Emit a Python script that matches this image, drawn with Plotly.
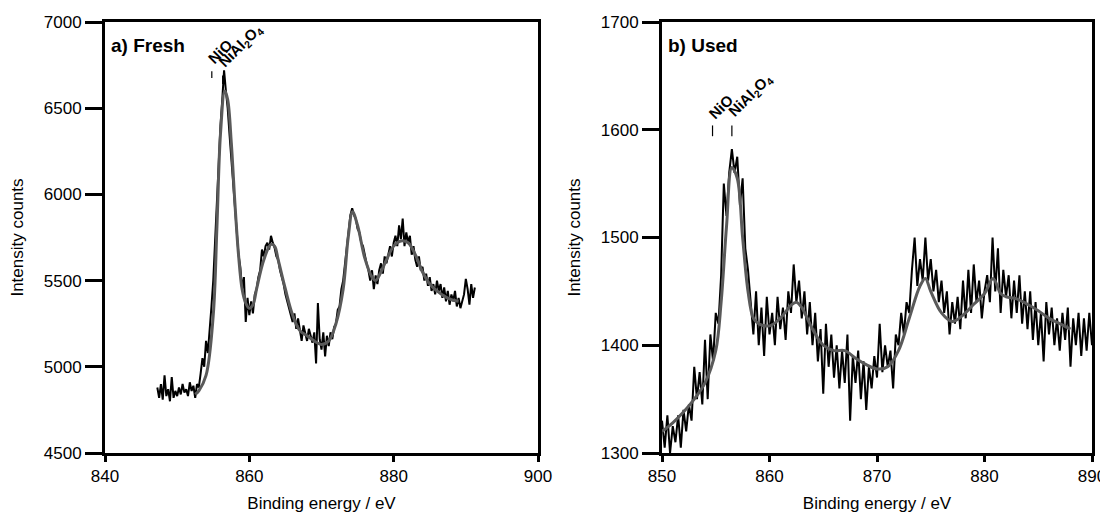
import numpy as np
import plotly.graph_objects as go

# ---------------- Data: (a) Fresh ----------------
fresh_start, fresh_step = 847.25, 0.25
fresh_counts = [
    4880, 4820, 4900, 4810, 4950, 4830, 4870, 4800, 4940, 4820,
    4860, 4830, 4880, 4840, 4900, 4850, 4870, 4830, 4910, 4860,
    4890, 4820, 4900, 4880, 4960, 5050, 5000, 5150, 5080, 5200,
    5350, 5500, 5750, 5950, 6200, 6400, 6550, 6720, 6600, 6500,
    6350, 6200, 6050, 5900, 5780, 5650, 5580, 5450, 5520, 5260,
    5400, 5300, 5380, 5310, 5420, 5450, 5520, 5560, 5680, 5640,
    5700, 5720, 5680, 5760, 5720, 5690, 5640, 5620, 5560, 5520,
    5480, 5420, 5380, 5340, 5300, 5260, 5310, 5220, 5280, 5200,
    5150, 5240, 5190, 5150, 5220, 5180, 5140, 5200, 5020, 5370,
    5160, 5100, 5200, 5060, 5180, 5120, 5200, 5160, 5230, 5250,
    5330, 5350, 5450, 5500, 5600, 5700, 5800, 5880, 5920, 5880,
    5860, 5800, 5780, 5720, 5700, 5640, 5600, 5560, 5500, 5560,
    5450, 5530, 5480, 5560, 5600, 5540, 5640, 5600, 5660, 5700,
    5640, 5720, 5760, 5700, 5820, 5740, 5860, 5700, 5780, 5720,
    5760, 5650, 5700, 5620, 5580, 5640, 5560, 5580, 5500, 5540,
    5470, 5520, 5440, 5480, 5420, 5500, 5440, 5480, 5400, 5460,
    5380, 5440, 5360, 5420, 5380, 5440, 5350, 5400, 5340, 5380,
    5420, 5510, 5450, 5360, 5480, 5400, 5460,
]
fresh_fit_energy = [852.5, 853, 854, 855, 855.5, 856, 856.6, 857, 857.5, 858,
                    858.5, 859, 859.5, 860, 860.5, 861, 862, 863, 863.5, 864,
                    865, 866, 867, 868, 869, 870, 871, 872, 873, 873.7,
                    874.3, 875, 876, 877, 877.5, 878, 879, 880, 881, 882,
                    883, 884, 885, 886, 887, 888, 889]
fresh_fit = [4840, 4860, 4950, 5300, 5800, 6350, 6600, 6550, 6300, 5950,
             5650, 5450, 5370, 5340, 5360, 5450, 5620, 5710, 5700, 5620,
             5450, 5300, 5210, 5180, 5150, 5130, 5150, 5250, 5450, 5750,
             5900, 5820, 5630, 5520, 5500, 5530, 5620, 5700, 5730, 5720,
             5650, 5550, 5480, 5440, 5410, 5390, 5380]

# ---------------- Data: (b) Used ----------------
used_start, used_step = 850.0, 0.25
used_counts = [
    1330, 1305, 1335, 1300, 1325, 1310, 1335, 1305, 1340, 1320,
    1345, 1330, 1380, 1350, 1375, 1345, 1405, 1350, 1410, 1385,
    1430, 1420, 1465, 1550, 1520, 1560, 1582, 1560, 1575, 1530,
    1555, 1490, 1470, 1440, 1410, 1450, 1400, 1435, 1390, 1445,
    1410, 1430, 1400, 1445, 1415, 1435, 1405, 1450, 1430, 1475,
    1440, 1460, 1425, 1450, 1410, 1440, 1400, 1430, 1385, 1415,
    1355, 1420, 1380, 1410, 1370, 1400, 1360, 1395, 1365, 1410,
    1330, 1390, 1365, 1395, 1350, 1385, 1340, 1380, 1360, 1390,
    1370, 1420, 1375, 1400, 1380, 1395, 1360, 1410, 1400, 1430,
    1410, 1440, 1430, 1470, 1500, 1455, 1480, 1460, 1500, 1460,
    1480, 1450, 1470, 1440, 1460, 1430, 1450, 1410, 1440, 1420,
    1445, 1415, 1460, 1425, 1470, 1430, 1475, 1440, 1460, 1425,
    1450, 1465, 1440, 1500, 1450, 1490, 1430, 1470, 1445, 1465,
    1425, 1460, 1430, 1465, 1420, 1450, 1415, 1450, 1405, 1440,
    1400, 1430, 1385, 1440, 1410, 1435, 1400, 1425, 1395, 1430,
    1405, 1435, 1380, 1425, 1400, 1430, 1390, 1425, 1395, 1430,
    1400,
]
used_fit_energy = [850, 851, 852, 853, 854, 855, 855.5, 856, 856.5, 857,
                   857.5, 858, 858.5, 859, 860, 861, 862, 862.5, 863, 864,
                   865, 866, 867, 868, 869, 870, 871, 872, 873, 874,
                   874.5, 875, 876, 877, 878, 879, 880, 880.8, 881.5, 882,
                   883, 884, 885, 886, 887, 888]
used_fit = [1320, 1328, 1338, 1350, 1365, 1395, 1440, 1510, 1565, 1555,
            1500, 1450, 1425, 1420, 1418, 1425, 1437, 1440, 1435, 1415,
            1400, 1395, 1395, 1388, 1382, 1378, 1380, 1395, 1425, 1455,
            1462, 1450, 1430, 1422, 1428, 1438, 1448, 1462, 1448, 1445,
            1443, 1438, 1432, 1425, 1420, 1415]

# Peak label positions (energy, label-line base, label-line top)
fresh_markers = [(854.8, 6675, 6715), (856.3, 6640, 6690)]
used_markers = [(854.7, 1594, 1604), (856.5, 1594, 1604)]
peak_labels = ["NiO", "NiAl<sub>2</sub>O<sub>4</sub>"]

fresh_energy = fresh_start + fresh_step * np.arange(len(fresh_counts))
used_energy = used_start + used_step * np.arange(len(used_counts))

FONT = "Liberation Sans, Arial, sans-serif"
fig = go.Figure()

fig.add_trace(go.Scatter(x=fresh_energy, y=fresh_counts, mode="lines",
                         line=dict(color="black", width=2), xaxis="x", yaxis="y",
                         showlegend=False))
fig.add_trace(go.Scatter(x=fresh_fit_energy, y=fresh_fit, mode="lines",
                         line=dict(color="#5a5a5a", width=3, shape="spline"),
                         xaxis="x", yaxis="y", showlegend=False))
fig.add_trace(go.Scatter(x=used_energy, y=used_counts, mode="lines",
                         line=dict(color="black", width=2), xaxis="x2", yaxis="y2",
                         showlegend=False))
fig.add_trace(go.Scatter(x=used_fit_energy, y=used_fit, mode="lines",
                         line=dict(color="#5a5a5a", width=3, shape="spline"),
                         xaxis="x2", yaxis="y2", showlegend=False))

TF = dict(family=FONT, size=17, color="black")
axis_common = dict(showline=True, linecolor="black", linewidth=3, mirror=True,
                   showgrid=False, zeroline=False, ticks="outside",
                   tickcolor="black", tickwidth=3, automargin=False,
                   ticklabeloverflow="allow", tickfont=TF)

# The page body adds an 8px offset; the figure fills the rest of the window.
W, H, OFF = 1100, 505, 8
def dx(px):
    return (px - OFF) / W
def dy(py):
    return 1 - (py - OFF) / H

fig.update_layout(
    width=W, height=H,
    margin=dict(l=0, r=0, t=0, b=0),
    paper_bgcolor="white", plot_bgcolor="white",
    xaxis=dict(domain=[dx(105), dx(538)], range=[840, 900], tickvals=[840, 860, 880, 900],
               ticklen=6, anchor="y",
               title=dict(text="Binding energy / eV", font=TF, standoff=13),
               **axis_common),
    yaxis=dict(domain=[dy(453), dy(22)], range=[4500, 7000], tickvals=[4500, 5000, 5500, 6000, 6500, 7000],
               ticklen=17, anchor="x",
               title=dict(text="Intensity counts", font=TF, standoff=16),
               **axis_common),
    xaxis2=dict(domain=[dx(662), dx(1092)], range=[850, 890], tickvals=[850, 860, 870, 880, 890],
                ticklen=6, anchor="y2",
                title=dict(text="Binding energy / eV", font=TF, standoff=13),
                **axis_common),
    yaxis2=dict(domain=[dy(453), dy(22)], range=[1300, 1700], tickvals=[1300, 1400, 1500, 1600, 1700],
                ticklen=17, anchor="x2",
                title=dict(text="Intensity counts", font=TF, standoff=16),
                **axis_common),
)

# Panel labels
fig.add_annotation(text="<b>a) Fresh</b>", x=0.01, y=0.975, xref="x domain", yref="y domain",
                   xanchor="left", yanchor="top", showarrow=False,
                   font=dict(family=FONT, size=19, color="black"))
fig.add_annotation(text="<b>b) Used</b>", x=0.01, y=0.975, xref="x2 domain", yref="y2 domain",
                   xanchor="left", yanchor="top", showarrow=False,
                   font=dict(family=FONT, size=19, color="black"))

# Peak markers and rotated labels
for (markers, xr, yr) in [(fresh_markers, "x", "y"), (used_markers, "x2", "y2")]:
    for (e, y0, y1), lab in zip(markers, peak_labels):
        fig.add_shape(type="line", x0=e, x1=e, y0=y0, y1=y1, xref=xr, yref=yr,
                      line=dict(color="black", width=1.2))
        fig.add_annotation(text="<b>" + lab + "</b>", x=e, y=y1, xref=xr, yref=yr,
                           xanchor="left", yanchor="bottom", xshift=-10, yshift=1,
                           textangle=-45, showarrow=False,
                           font=dict(family=FONT, size=15, color="black"))

fig.write_html("out.html")
